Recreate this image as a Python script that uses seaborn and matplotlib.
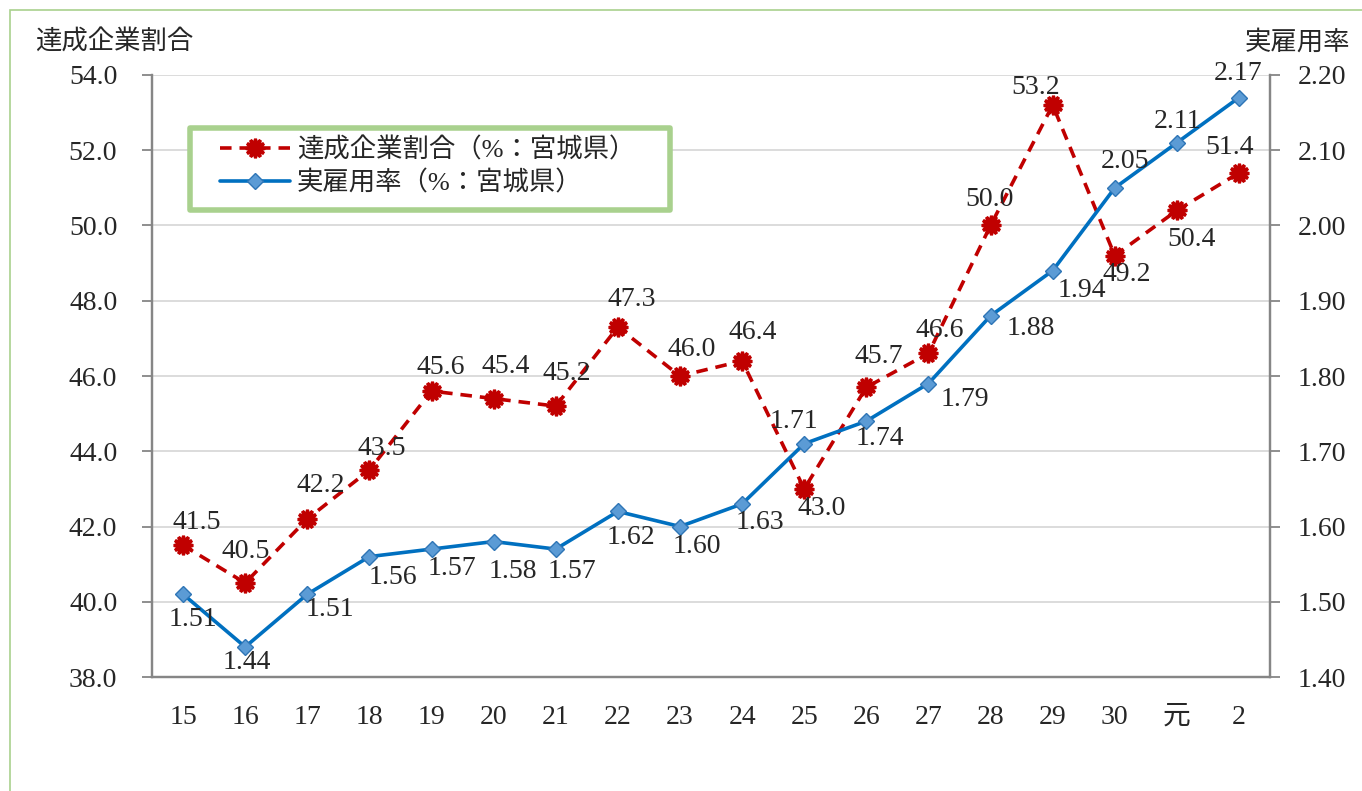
import matplotlib
matplotlib.use("Agg")
import matplotlib.pyplot as plt
import seaborn as sns
import pandas as pd
from matplotlib.patches import Rectangle

# data
years = ["15", "16", "17", "18", "19", "20", "21", "22", "23", "24",
         "25", "26", "27", "28", "29", "30", "元", "2"]
tassei = [41.5, 40.5, 42.2, 43.5, 45.6, 45.4, 45.2, 47.3, 46.0, 46.4,
          43.0, 45.7, 46.6, 50.0, 53.2, 49.2, 50.4, 51.4]
koyou = [1.51, 1.44, 1.51, 1.56, 1.57, 1.58, 1.57, 1.62, 1.60, 1.63,
         1.71, 1.74, 1.79, 1.88, 1.94, 2.05, 2.11, 2.17]

df = pd.DataFrame({"idx": range(len(years)), "year": years,
                   "tassei": tassei, "koyou": koyou})

sns.set_style("white")
fonts = ["Liberation Serif", "Noto Sans CJK JP", "DejaVu Sans"]
plt.rcParams["font.family"] = fonts
plt.rcParams["font.size"] = 19

RED = "#C00000"
BLUE = "#0070C0"
GRAY = "#868686"
NUM = 20  # size of the numbers

fig = plt.figure(figsize=(13.62, 7.91), dpi=100)
ax = fig.add_axes([0.1116, 0.1441, 0.8209, 0.7611])
ax2 = ax.twinx()

sns.lineplot(data=df, x="idx", y="tassei", ax=ax, color=RED, lw=2.6,
             linestyle=(0, (3.2, 2.2)), marker=(12, 1, 0), markersize=14,
             markeredgecolor=RED, markerfacecolor=RED, markeredgewidth=2.2,
             label="達成企業割合（%：宮城県）", legend=False)
sns.lineplot(data=df, x="idx", y="koyou", ax=ax2, color=BLUE, lw=2.6,
             marker="D", markersize=8.5, markerfacecolor="#5B9BD5",
             markeredgecolor="#2E75B6", markeredgewidth=1.0,
             label="実雇用率（%：宮城県）", legend=False)

ax.set_xlim(-0.5, len(years) - 0.5)
ax.set_ylim(38, 54)
ax.set_yticks([38 + 2 * i for i in range(9)])
ax.set_yticklabels([f"{38 + 2 * i:.1f}" for i in range(9)])
ax2.set_ylim(1.40, 2.20)
ax2.set_yticks([1.40 + 0.1 * i for i in range(9)])
ax2.set_yticklabels([f"{1.40 + 0.1 * i:.2f}" for i in range(9)])
ax.set_xticks(df["idx"])
ax.set_xticklabels(years)
ax.set_xlabel("")
ax.set_ylabel("")
ax2.set_ylabel("")

ax.grid(axis="y", color="#D9D9D9", lw=1.3)
ax.set_axisbelow(True)

for a in (ax, ax2):
    a.spines["top"].set_visible(False)
    for s in ("left", "right", "bottom"):
        a.spines[s].set_color(GRAY)
        a.spines[s].set_linewidth(1.6)
ax.tick_params(axis="y", direction="out", length=7, width=1.3, color=GRAY,
               pad=18, labelsize=NUM)
ax2.tick_params(axis="y", direction="out", length=7, width=1.3, color=GRAY,
                pad=13, labelsize=NUM)
ax.tick_params(axis="x", length=0, pad=20, labelsize=NUM)

# value labels (pixel offsets from each point, x right / y down)
red_off = [(14, -23), (1, -31), (13, -33), (12, -22), (9, -24), (12, -32),
           (11, -33), (14, -28), (12, -27), (11, -28), (17, 20), (12, -31),
           (11, -23), (-1, -26), (-17, -18), (12, 19), (15, 29), (-9, -25)]
blue_off = [(10, 25), (2, 16), (23, 15), (24, 21), (20, 19), (19, 30),
            (16, 22), (13, 26), (17, 20), (18, 19), (-10, -22), (14, 17),
            (36, 16), (40, 13), (29, 20), (10, -26), (1, -21), (-1, -24)]
for i, v in enumerate(tassei):
    dx, dy = red_off[i]
    ax.annotate(f"{v:.1f}", (i, v), xytext=(dx, -dy),
                textcoords="offset pixels", ha="center", va="center",
                fontsize=NUM, zorder=5)
for i, v in enumerate(koyou):
    dx, dy = blue_off[i]
    ax2.annotate(f"{v:.2f}", (i, v), xytext=(dx, -dy),
                 textcoords="offset pixels", ha="center", va="center",
                 fontsize=NUM, zorder=5)

h1, l1 = ax.get_legend_handles_labels()
h2, l2 = ax2.get_legend_handles_labels()
leg = ax2.legend(h1 + h2, l1 + l2, loc="upper left",
                 bbox_to_anchor=(0.0608, 0.897), borderaxespad=0,
                 frameon=False, handlelength=2.65, fontsize=19,
                 borderpad=0, labelspacing=0.3, handletextpad=0.27)
ax2.add_patch(Rectangle((0.034, 0.7757), 0.4293, 0.1363,
                        transform=ax2.transAxes, facecolor="white",
                        edgecolor="#A9D18E", lw=4, joinstyle="round",
                        zorder=4))
leg.set_zorder(6)

fig.text(35 / 1362, 1 - 42 / 791, "達成企業割合", ha="left", va="center",
         fontsize=19)
fig.text(1350 / 1362, 1 - 42 / 791, "実雇用率", ha="right", va="center",
         fontsize=19)

# outer frame
fig.patches.append(Rectangle((10 / 1362, -0.1), 1.2, 1 - 10 / 791 + 0.1,
                             transform=fig.transFigure, fill=False,
                             edgecolor="#A9D18E", lw=1.2))

fig.savefig("out.png", dpi=100)
